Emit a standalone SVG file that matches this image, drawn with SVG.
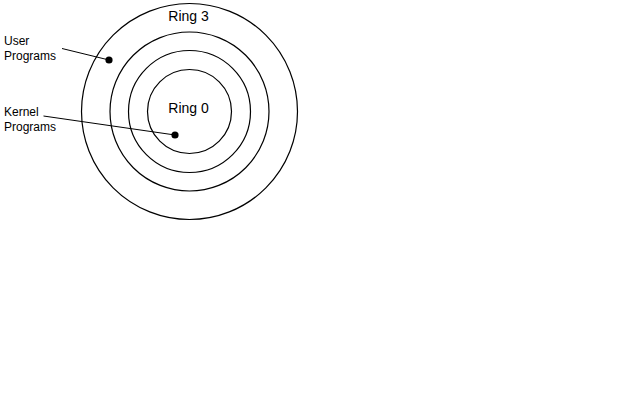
<svg xmlns="http://www.w3.org/2000/svg" width="640" height="400" viewBox="0 0 640 400">
<style>
.ring{fill:none;stroke:#000;stroke-width:1.2}
.lbl{font-family:"Liberation Sans",Arial,sans-serif;font-size:12px;fill:#000}
.title{font-family:"Liberation Sans",Arial,sans-serif;font-size:14px;fill:#000;text-anchor:middle}
.lead{stroke:#000;stroke-width:1}
.dot{fill:#000}
</style>
<rect width="640" height="400" fill="#fff"/>
<g id="ring3"><circle class="ring" cx="189.5" cy="111.5" r="108"/><text class="title" x="188.5" y="21">Ring 3</text></g>
<g id="ring2"><circle class="ring" cx="189.5" cy="111.5" r="79.5"/></g>
<g id="ring1"><circle class="ring" cx="189.5" cy="111.5" r="61"/></g>
<g id="ring0"><circle class="ring" cx="189.5" cy="111.5" r="42"/><text class="title" x="188.5" y="113">Ring 0</text></g>
<g id="user-programs"><text class="lbl" x="4" y="45">User</text><text class="lbl" x="4" y="59.5">Programs</text></g>
<g id="kernel-programs"><text class="lbl" x="4" y="116">Kernel</text><text class="lbl" x="4" y="130.5">Programs</text></g>
<g id="connectors">
<line class="lead" x1="62" y1="48.5" x2="109" y2="60"/>
<circle class="dot" cx="109" cy="60" r="3.6"/>
<line class="lead" x1="43.5" y1="116" x2="175" y2="135"/>
<circle class="dot" cx="175" cy="135" r="3.6"/>
</g>
</svg>
